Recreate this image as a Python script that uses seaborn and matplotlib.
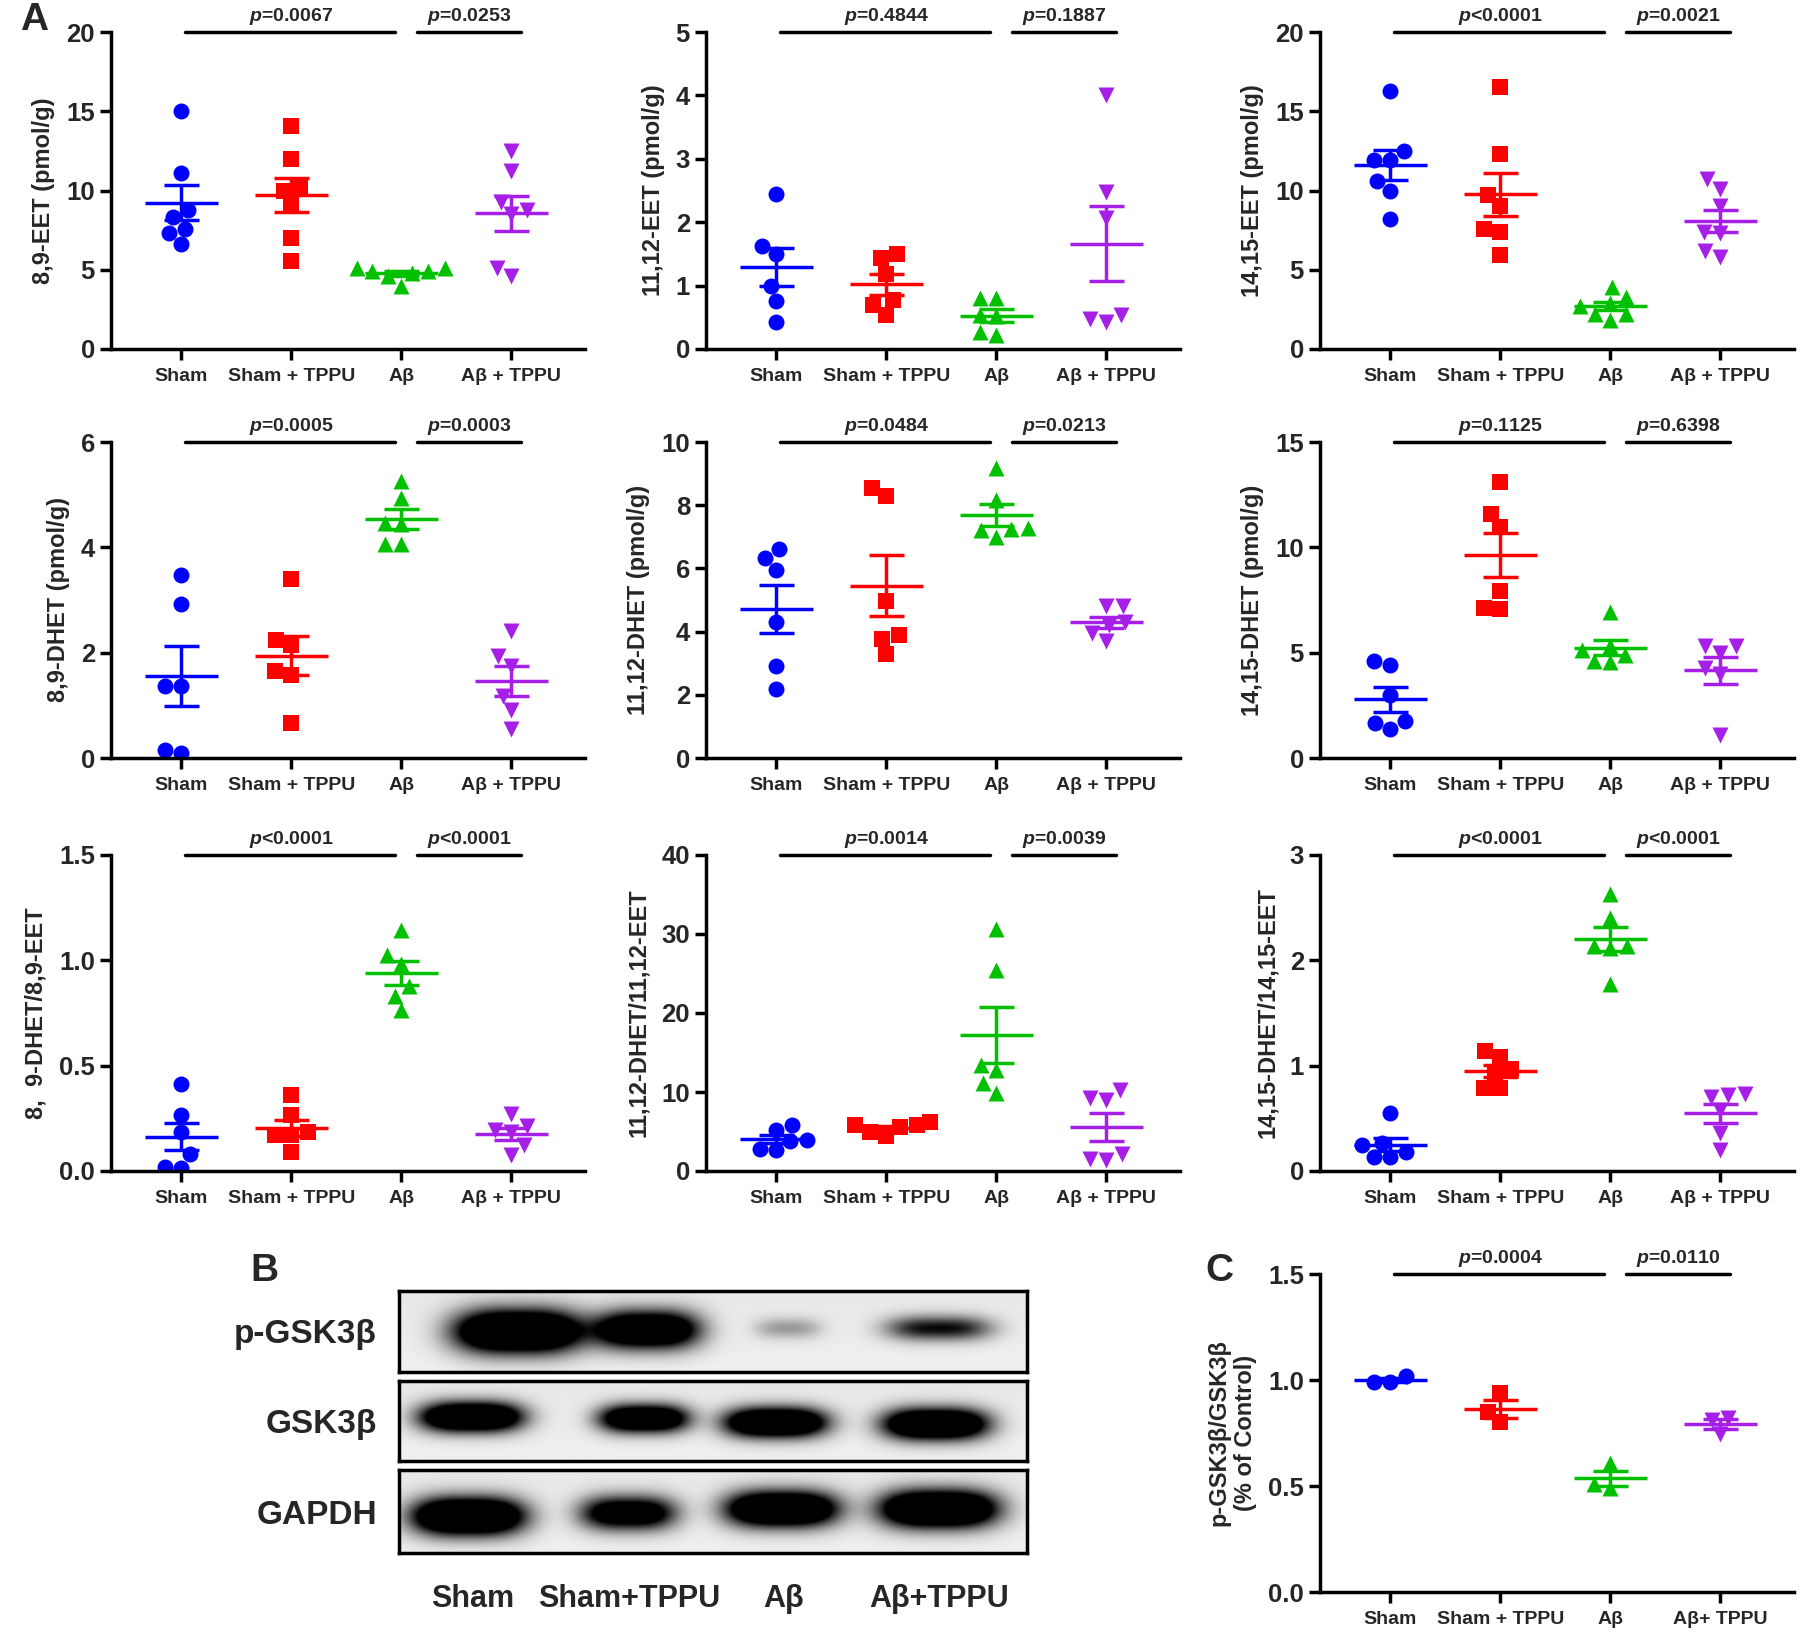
import numpy as np
import matplotlib
matplotlib.use("Agg")
import matplotlib.pyplot as plt
import seaborn as sns

# groups
groups = ["Sham", "Sham + TPPU", "Aβ", "Aβ + TPPU"]
groups_c = ["Sham", "Sham + TPPU", "Aβ", "Aβ+ TPPU"]
colors = ["#0000FF", "#FF0000", "#00C000", "#A51FE6"]
markers = ["o", "s", "^", "v"]

# panel A values, one list per group
eet89 = [[15.0, 11.1, 8.8, 8.3, 7.6, 7.3, 6.6],
         [14.05, 12.0, 10.3, 10.0, 9.1, 7.0, 5.55],
         [5.1, 5.1, 4.9, 4.9, 4.8, 4.6, 4.0],
         [12.5, 11.2, 9.3, 8.8, 8.5, 5.1, 4.6]]
eet1112 = [[2.44, 1.63, 1.50, 1.0, 0.76, 0.42],
           [1.50, 1.43, 1.19, 0.77, 0.69, 0.54],
           [0.81, 0.81, 0.54, 0.52, 0.22, 0.27],
           [4.01, 2.47, 2.06, 0.54, 0.47, 0.43]]
eet1415 = [[16.3, 12.5, 11.9, 11.9, 10.6, 10.0, 8.2],
           [16.5, 12.3, 9.7, 9.0, 7.6, 7.4, 5.9],
           [3.9, 3.3, 2.9, 2.7, 2.2, 2.2, 1.8],
           [10.7, 10.1, 9.0, 7.4, 7.3, 6.2, 5.8]]
dhet89 = [[3.47, 2.93, 1.37, 1.37, 0.16, 0.09],
          [3.39, 2.24, 2.14, 1.66, 1.57, 0.67],
          [5.26, 4.93, 4.47, 4.45, 4.06, 4.06],
          [2.42, 1.94, 1.75, 1.17, 0.91, 0.55]]
dhet1112 = [[6.6, 6.33, 5.96, 4.31, 2.91, 2.17],
            [8.55, 8.29, 4.96, 3.89, 3.77, 3.28],
            [9.18, 8.16, 7.29, 7.24, 7.22, 7.0],
            [4.8, 4.8, 4.3, 4.2, 3.95, 3.7]]
dhet1415 = [[4.6, 4.4, 2.98, 1.76, 1.64, 1.37],
            [13.08, 11.6, 10.98, 7.94, 7.12, 7.09],
            [6.93, 5.31, 5.15, 4.88, 4.6, 4.55],
            [5.31, 5.31, 5.0, 4.29, 3.97, 1.09]]
ratio89 = [[0.414, 0.264, 0.185, 0.082, 0.016, 0.019],
           [0.359, 0.264, 0.185, 0.169, 0.169, 0.09],
           [1.146, 1.023, 0.983, 0.88, 0.833, 0.762],
           [0.272, 0.212, 0.193, 0.185, 0.122, 0.074]]
ratio1112 = [[5.78, 5.15, 3.88, 3.75, 2.61, 2.82],
             [6.2, 5.86, 5.56, 5.78, 4.93, 4.38],
             [30.65, 25.38, 13.45, 12.73, 11.13, 9.86],
             [10.2, 9.27, 9.02, 2.19, 1.35, 1.56]]
ratio1415 = [[0.553, 0.265, 0.243, 0.18, 0.133, 0.133],
             [1.14, 1.08, 0.964, 0.933, 0.79, 0.79],
             [2.63, 2.40, 2.14, 2.14, 2.12, 1.78],
             [0.718, 0.733, 0.702, 0.575, 0.36, 0.196]]
# panel C
pgsk = [[0.99, 1.02, 0.99],
        [0.94, 0.85, 0.80],
        [0.608, 0.51, 0.49],
        [0.82, 0.81, 0.745]]

ylabels = ["8,9-EET (pmol/g)", "11,12-EET (pmol/g)", "14,15-EET (pmol/g)",
           "8,9-DHET (pmol/g)", "11,12-DHET (pmol/g)", "14,15-DHET (pmol/g)",
           "8,  9-DHET/8,9-EET", "11,12-DHET/11,12-EET", "14,15-DHET/14,15-EET"]
yticks = [[0, 5, 10, 15, 20], [0, 1, 2, 3, 4, 5], [0, 5, 10, 15, 20],
          [0, 2, 4, 6], [0, 2, 4, 6, 8, 10], [0, 5, 10, 15],
          [0.0, 0.5, 1.0, 1.5], [0, 10, 20, 30, 40], [0, 1, 2, 3]]
pvals = [("=0.0067", "=0.0253"), ("=0.4844", "=0.1887"), ("<0.0001", "=0.0021"),
         ("=0.0005", "=0.0003"), ("=0.0484", "=0.0213"), ("=0.1125", "=0.6398"),
         ("<0.0001", "<0.0001"), ("=0.0014", "=0.0039"), ("<0.0001", "<0.0001")]
panels = [eet89, eet1112, eet1415, dhet89, dhet1112, dhet1415, ratio89, ratio1112, ratio1415]

# western blot band darkness per lane
blot_rows = ["p-GSK3β", "GSK3β", "GAPDH"]
band_centers = [[0.19, 0.395, 0.62, 0.86], [0.115, 0.39, 0.60, 0.855], [0.11, 0.365, 0.61, 0.86]]
band_halfwidths = [[0.1, 0.082, 0.052, 0.082], [0.08, 0.07, 0.08, 0.082], [0.088, 0.075, 0.088, 0.092]]
band_strength = [[2.0, 1.7, 0.32, 0.9], [1.9, 1.7, 1.9, 1.9], [2.0, 1.4, 1.9, 2.0]]
band_thickness = [[0.26, 0.23, 0.13, 0.15], [0.18, 0.17, 0.18, 0.19], [0.22, 0.2, 0.21, 0.22]]
band_offset = [[0.0, -0.02, -0.04, -0.04], [-0.05, -0.03, 0.02, 0.04], [0.06, 0.02, -0.03, -0.03]]
lane_labels = ["Sham", "Sham+TPPU", "Aβ", "Aβ+TPPU"]
lane_pos = [0.118, 0.366, 0.613, 0.86]

sns.set_style("ticks")
plt.rcParams["font.family"] = ["Liberation Sans", "DejaVu Sans"]
plt.rcParams["font.weight"] = "bold"
plt.rcParams["axes.labelweight"] = "bold"
plt.rcParams["mathtext.fontset"] = "custom"
plt.rcParams["mathtext.it"] = "Liberation Sans:italic"
plt.rcParams["mathtext.rm"] = "Liberation Sans:bold"

fig = plt.figure(figsize=(18, 16.36), dpi=100)

W, H = 1800, 1636
col_x = [111, 706, 1320]
row_y = [(32, 349), (442, 758), (855, 1171)]
ax_w = 474


def style_axis(ax, ticks, cats, ylabel, fmt, ylab_size):
    ax.set_xlim(-0.64, 3.67)
    ax.set_ylim(ticks[0], ticks[-1])
    ax.set_yticks(ticks)
    ax.set_yticklabels([fmt.format(t) for t in ticks], fontsize=18.5, fontweight="bold")
    ax.set_xticks(range(4))
    ax.set_xticklabels(cats, fontsize=14, fontweight="bold")
    ax.set_xlabel("")
    ax.set_ylabel(ylabel, fontsize=ylab_size, fontweight="bold", labelpad=8)
    for s in ["top", "right"]:
        ax.spines[s].set_visible(False)
    for s in ["left", "bottom"]:
        ax.spines[s].set_linewidth(2.5)
        ax.spines[s].set_color("black")
    ax.tick_params(width=2.5, length=8, color="black", direction="out")
    ax.tick_params(axis="x", pad=6)


def draw_group_panel(ax, data, ticks, cats, ylabel, fmt, p1, p2, ylab_size=17):
    for i, vals in enumerate(data):
        sns.swarmplot(x=[cats[i]] * len(vals), y=vals, order=cats, color=colors[i],
                      marker=markers[i], size=11.5, linewidth=0, ax=ax, zorder=2)
        m = np.mean(vals)
        se = np.std(vals, ddof=1) / np.sqrt(len(vals))
        ax.hlines(m, i - 0.33, i + 0.33, color=colors[i], lw=2.5, zorder=4)
        ax.hlines([m - se, m + se], i - 0.16, i + 0.16, color=colors[i], lw=2.5, zorder=4)
        ax.vlines(i, m - se, m + se, color=colors[i], lw=2.5, zorder=4)
    style_axis(ax, ticks, cats, ylabel, fmt, ylab_size)
    top = ticks[-1]
    ax.plot([0.03, 1.94], [top, top], color="black", lw=2.5, clip_on=False)
    ax.plot([2.14, 3.09], [top, top], color="black", lw=2.5, clip_on=False)
    ax.text(1.0, top * 1.015, "$p$" + p1, ha="center", va="bottom", fontsize=14,
            fontweight="bold")
    ax.text(2.62, top * 1.015, "$p$" + p2, ha="center", va="bottom", fontsize=14,
            fontweight="bold")


for k, data in enumerate(panels):
    r, c = divmod(k, 3)
    y0, y1 = row_y[r]
    ax = fig.add_axes([col_x[c] / W, 1 - y1 / H, ax_w / W, (y1 - y0) / H])
    ticks = yticks[k]
    fmt = "{:.1f}" if isinstance(ticks[-1], float) else "{:d}"
    draw_group_panel(ax, data, ticks, groups, ylabels[k], fmt, *pvals[k])

# panel C
axc = fig.add_axes([1320 / W, 1 - 1592 / H, ax_w / W, (1592 - 1274) / H])
draw_group_panel(axc, pgsk, [0.0, 0.5, 1.0, 1.5], groups_c,
                 "p-GSK3β/GSK3β\n(% of Control)", "{:.1f}", "=0.0004", "=0.0110",
                 ylab_size=17)

# panel B: western blot strips
blot_boxes = [(1291, 1372), (1381, 1461), (1470, 1553)]
X, Y = np.meshgrid(np.linspace(0, 1, 600), np.linspace(0, 1, 120))
for r, (b0, b1) in enumerate(blot_boxes):
    axb = fig.add_axes([399 / W, 1 - b1 / H, 628 / W, (b1 - b0) / H])
    img = np.full(X.shape, 0.06) + 0.03 * (1 - Y)
    for cx, hw, a, hh, dy in zip(band_centers[r], band_halfwidths[r], band_strength[r],
                                 band_thickness[r], band_offset[r]):
        img += a * np.exp(-np.abs((X - cx) / hw) ** 3) * np.exp(-((Y - 0.5 - dy) / hh) ** 2)
    axb.imshow(np.clip(img, 0, 1), cmap="gray_r", vmin=0, vmax=1, extent=[0, 1, 0, 1],
               aspect="auto", interpolation="bilinear")
    for s in axb.spines.values():
        s.set_linewidth(2.5)
        s.set_color("black")
    axb.set_yticks([0.5])
    axb.set_yticklabels([blot_rows[r]], fontsize=24, fontweight="bold")
    axb.tick_params(length=0, pad=16)
    if r == 2:
        axb.set_xticks(lane_pos)
        axb.set_xticklabels(lane_labels, fontsize=22, fontweight="bold")
        axb.tick_params(axis="x", pad=22)
    else:
        axb.set_xticks([])

fig.text(20 / W, 1 - 20 / H, "A", fontsize=28, fontweight="bold", va="center", ha="left")
fig.text(264 / W, 1 - 1271 / H, "B", fontsize=28, fontweight="bold", va="center", ha="center")
fig.text(1219 / W, 1 - 1271 / H, "C", fontsize=28, fontweight="bold", va="center", ha="center")

fig.savefig("out.png", dpi=100, facecolor="white")
